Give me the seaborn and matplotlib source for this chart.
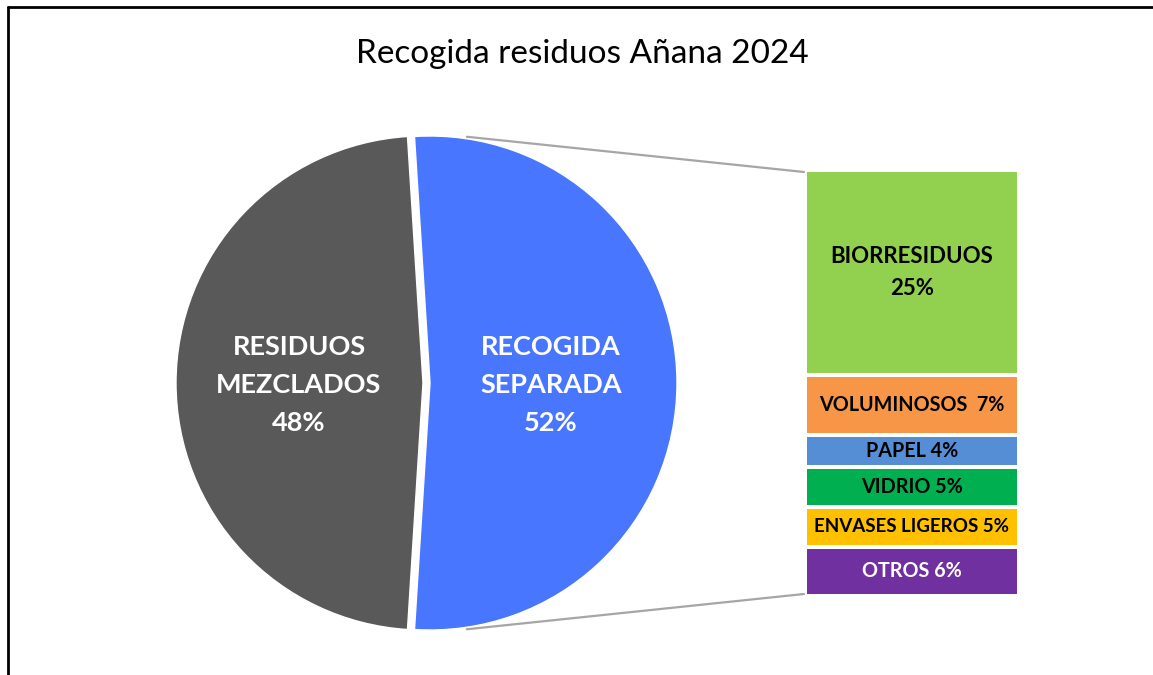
import numpy as np
import matplotlib
matplotlib.use("Agg")
import matplotlib.pyplot as plt
import seaborn as sns
from matplotlib.lines import Line2D

# ---------------- data ----------------
title = "Recogida residuos Añana 2024"
pie_names = ["RESIDUOS\nMEZCLADOS", "RECOGIDA\nSEPARADA"]
pie_values = [48.0, 52.0]
pie_colors = ["#595959", "#4876FF"]

bar_names = ["BIORRESIDUOS", "VOLUMINOSOS ", "PAPEL", "VIDRIO", "ENVASES LIGEROS", "OTROS"]
bar_values = [25.0, 7.4, 3.9, 4.8, 4.9, 6.0]
bar_colors = ["#92D050", "#F79646", "#558ED5", "#00B050", "#FFC000", "#7030A0"]
bar_text_colors = ["black", "black", "black", "black", "black", "white"]

# ---------------- style ----------------
sns.set_theme(style="white")
plt.rcParams["font.family"] = ["Lato", "DejaVu Sans"]

W, H = 1153, 675
fig = plt.figure(figsize=(W / 100, H / 100), dpi=100)
fig.patch.set_facecolor("white")

# main axes in pixel-like units
ax = fig.add_axes([0, 0, 1, 1])

# pie geometry (layout)
cx, cy, R = 423, 383, 247
explode_px = 7
total = sum(pie_values)
start = 180 - pie_values[0] / total * 360 / 2   # dark slice centred on the left
wedges, _ = ax.pie(pie_values, colors=pie_colors, startangle=start, counterclock=True,
                   center=(cx, cy), radius=R, explode=[0, explode_px],
                   wedgeprops=dict(edgecolor="white", linewidth=1))
ax.set_xlim(0, W)
ax.set_ylim(H, 0)
ax.set_aspect("auto")
ax.axis("off")

# pie labels
label_x = [299, 551]
for name, val, lx in zip(pie_names, pie_values, label_x):
    ax.text(lx, 385, f"{name}\n{val:.0f}%", color="white", fontsize=19.5, fontweight="bold",
            ha="center", va="center", linespacing=1.68)

# title
ax.text(582, 63, title, fontsize=24, ha="center", va="baseline", color="black")

# bar geometry (layout)
bx0, bx1, by0, by1 = 807, 1017, 172, 594
lw_px = 4
bax = fig.add_axes([(bx0 - lw_px / 2) / W, 1 - (by1 + lw_px / 2) / H,
                    (bx1 - bx0 + lw_px) / W, (by1 - by0 + lw_px) / H])
cum = np.cumsum(bar_values)
for i in reversed(range(len(bar_values))):
    sns.barplot(x=["sep"], y=[cum[i]], color=bar_colors[i], saturation=1, width=1,
                edgecolor="white", linewidth=lw_px * 0.72, ax=bax)
bax.set_xlim(-0.5, 0.5)
bax.set_ylim(cum[-1], 0)
bax.axis("off")

for i, (name, val) in enumerate(zip(bar_names, bar_values)):
    mid = cum[i] - val / 2
    if i == 0:
        txt = f"{name}\n{val:.0f}%"
        fs, ls = 16, 1.65
    else:
        txt = f"{name} {val:.0f}%"
        fs, ls = (13.5 if len(name) > 12 else 14.2), 1.2
    bax.text(0, mid, txt, ha="center", va="center", fontsize=fs, fontweight="bold",
             color=bar_text_colors[i], linespacing=ls)

# connector lines from separated slice to bar
bcx = cx + explode_px
for ang, ypix in [(81.5, by0), (-81.5, by1)]:
    a = np.deg2rad(ang)
    sx = bcx + (R + 2) * np.cos(a)
    sy = cy - (R + 2) * np.sin(a)
    ax.add_line(Line2D([sx, bx0 - 3], [sy, ypix], color="#A6A6A6", linewidth=1.6))

# outer frame (top and left)
fig.add_artist(Line2D([8 / W, 1], [1 - 7 / H, 1 - 7 / H], color="black", linewidth=2,
                      transform=fig.transFigure))
fig.add_artist(Line2D([8 / W, 8 / W], [0, 1 - 7 / H], color="black", linewidth=2,
                      transform=fig.transFigure))

fig.savefig("out.png", dpi=100)
